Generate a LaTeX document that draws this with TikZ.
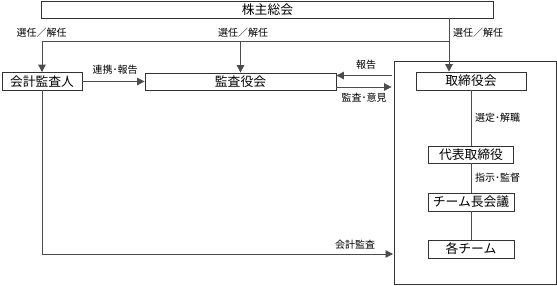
\documentclass[tikz,border=0pt]{standalone}
\usepackage{fontspec}
\setmainfont{Noto Sans CJK JP}
\usetikzlibrary{arrows.meta}
\begin{document}
\begin{tikzpicture}[x=1pt, y=-1pt,
        box/.style={rectangle, draw=black!80, line width=0.8pt,
          inner sep=0pt, font=\fontsize{12.8}{14}\selectfont},
        lbl/.style={inner sep=0pt, font=\fontsize{10}{11}\selectfont},
        line/.style={draw=black!70, line width=0.8pt},
        arr/.style={line, -{Triangle[length=7.5pt, width=7.5pt]}},
      ]
      \useasboundingbox (0,0) rectangle (557,285);

      \node[box, minimum width=452pt, minimum height=17pt] (gm) at (267.5, 9.5)
      {株主総会};

      \node[box, minimum width=80pt, minimum height=18pt] (ca) at (42, 81.5)
      {会計監査人};

      \node[box, minimum width=191pt, minimum height=17pt] (kb) at (240.5, 81.5)
      {監査役会};

      \node[box, minimum width=162pt, minimum height=223pt] (frame) at (475, 172.5) {};

      \node[box, minimum width=110pt, minimum height=18pt] (tb) at (471, 81)
      {取締役会};

      \node[box, minimum width=85pt, minimum height=17pt] (dt) at (471, 154.5)
      {代表取締役};

      \node[box, minimum width=86pt, minimum height=18pt] (tm) at (471, 202)
      {チーム長会議};

      \node[box, minimum width=86pt, minimum height=18pt] (kt) at (471, 249)
      {各チーム};

      % 選任／解任
      \coordinate (sel) at (449, 41);
      \draw[arr] (gm.south -| sel) -- (sel |- tb.north);
      \draw[arr] (sel) -| (ca.north);
      \draw[arr] (kb.north |- sel) -- (kb.north);
      \node[lbl] (lsel1) at (41.5, 33) {選任／解任};
      \node[lbl] (lsel2) at (243, 33) {選任／解任};
      \node[lbl, anchor=west] (lsel3) at (453, 33) {選任／解任};

      % 監査役会まわり
      \draw[arr] (ca) -- (kb);
      \node[lbl] (lren) at (115, 70) {連携･報告};
      \draw[arr, shorten <=2pt] ([yshift=6pt]kb.east -| frame.west) -- ([yshift=6pt]kb.east);
      \node[lbl] (lrep) at (366, 65) {報告};
      \draw[arr, shorten >=2pt] ([yshift=-5.5pt]kb.east) -- ([yshift=-5.5pt]kb.east -| frame.west);
      \node[lbl] (laud) at (364, 98) {監査･意見};

      % 会計監査
      \coordinate (au) at (393, 254);
      \draw[arr] (ca.south) |- (au);
      \node[lbl] (lacc) at (355, 245) {会計監査};

      % 取締役会の中
      \draw[line] (tb) -- (dt);
      \node[lbl, anchor=west] (lsen) at (475, 118) {選定･解職};
      \draw[line] (dt) -- (tm);
      \node[lbl, anchor=west] (lsup) at (475, 178) {指示･監督};
      \draw[line] (tm) -- (kt);

    \end{tikzpicture}
\end{document}
